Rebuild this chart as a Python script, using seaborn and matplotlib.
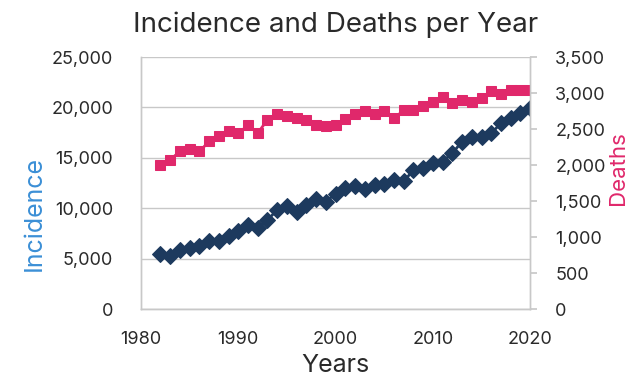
import matplotlib
matplotlib.use("Agg")
import matplotlib.pyplot as plt
from matplotlib.ticker import FuncFormatter, MultipleLocator
import seaborn as sns
import pandas as pd

years = list(range(1982, 2021))
incidence = [5460, 5290, 5820, 6015, 6210, 6780, 6780, 7270, 7700, 8300,
             8040, 8830, 9850, 10180, 9680, 10280, 10910, 10670, 11450, 12000,
             12230, 11900, 12330, 12430, 12820, 12660, 13810, 13980, 14480, 14640,
             15470, 16620, 17050, 17050, 17450, 18440, 18940, 19430, 19930]
deaths = [2004, 2074, 2189, 2222, 2189, 2328, 2397, 2480, 2444, 2550,
          2444, 2629, 2712, 2675, 2652, 2629, 2560, 2536, 2560, 2638,
          2712, 2745, 2712, 2745, 2652, 2759, 2768, 2823, 2870, 2944,
          2861, 2906, 2870, 2930, 3022, 2990, 3045, 3036, 3045]

navy = "#1d3a5e"
pink = "#e0286b"
blue_label = "#3b8fd6"
grey = "#c8c8c8"
text_col = "#2a2a2a"

sns.set_theme(style="white")
plt.rcParams["font.family"] = ["Inter", "DejaVu Sans"]

df = pd.DataFrame({"year": years, "incidence": incidence, "deaths": deaths})

fig, ax = plt.subplots(figsize=(6.35, 3.83), dpi=100)
fig.subplots_adjust(left=0.222, right=0.835, top=0.851, bottom=0.193)
ax2 = ax.twinx()

sns.lineplot(data=df, x="year", y="incidence", ax=ax, color=navy, marker="D",
             markersize=8, markeredgecolor=navy, linewidth=2)
sns.lineplot(data=df, x="year", y="deaths", ax=ax2, color=pink, marker="s",
             markersize=7.5, markeredgecolor=pink, linewidth=2)

ax.set_xlim(1980, 2020)
ax.set_ylim(0, 25000)
ax2.set_ylim(0, 3500)
ax.xaxis.set_major_locator(MultipleLocator(10))
ax.yaxis.set_major_locator(MultipleLocator(5000))
ax2.yaxis.set_major_locator(MultipleLocator(500))
fmt = FuncFormatter(lambda v, p: f"{int(v):,}")
ax.yaxis.set_major_formatter(fmt)
ax2.yaxis.set_major_formatter(fmt)

ax.grid(axis="y", color=grey, linewidth=1)
ax.grid(axis="x", visible=False)
ax2.grid(False)

for a in (ax, ax2):
    for s in a.spines.values():
        s.set_color(grey)
        s.set_linewidth(1)
    a.spines["top"].set_visible(False)
    a.tick_params(labelsize=13, colors=text_col)
ax.tick_params(axis="y", length=0, pad=20)
ax.tick_params(axis="x", length=0, pad=16)
ax2.tick_params(axis="y", length=5, color=grey, direction="out", pad=13)

ax.set_xlabel("Years", fontsize=18, color=text_col, labelpad=4)
ax.set_ylabel("Incidence", fontsize=18, color=blue_label)
ax.yaxis.set_label_coords(-0.245, 0.38)
ax2.set_ylabel("Deaths", fontsize=16, color=pink)
ax2.yaxis.set_label_coords(1.2, 0.56)
ax.set_title("Incidence and Deaths per Year", fontsize=20, color=text_col, pad=18)

fig.savefig("out.png", dpi=100)
